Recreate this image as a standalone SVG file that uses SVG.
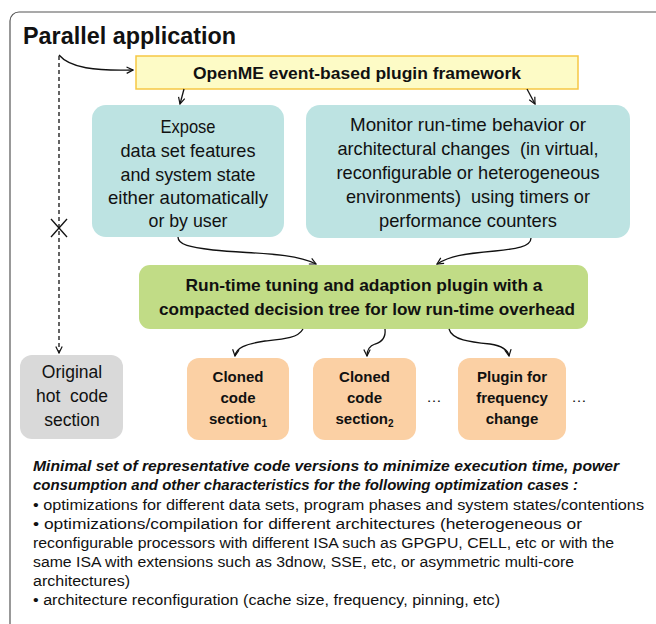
<svg xmlns="http://www.w3.org/2000/svg" width="656" height="624" viewBox="0 0 656 624">
<style>
text{font-family:"Liberation Sans",Arial,sans-serif;fill:#111}
.t{font-size:23px;font-weight:bold}
.y{font-size:16.5px;font-weight:bold}
.m{font-size:18.5px}
.g{font-size:16.5px;font-weight:bold}
.o{font-size:15px;font-weight:bold}
.gr{font-size:17.5px}
.b{font-size:15.5px}
.bi{font-size:15px;font-weight:bold;font-style:italic}
.c{text-anchor:middle}
.conn path,.conn line{fill:none;stroke:#111;stroke-width:1.3}
</style>
<defs>
<marker id="ah" viewBox="0 0 10 10" refX="9" refY="5" markerWidth="8" markerHeight="8" markerUnits="userSpaceOnUse" orient="auto"><path d="M1,1 L9,5 L1,9" fill="none" stroke="#111" stroke-width="1.5"/></marker>
</defs>
<rect x="10" y="12" width="720" height="720" rx="9" fill="#fff" stroke="#555" stroke-width="1.2"/>
<text class="t" x="23" y="44" textLength="213" lengthAdjust="spacingAndGlyphs">Parallel application</text>

<g id="framework">
<rect x="136" y="56" width="442" height="33" fill="#fdfbc6" stroke="#f6c744" stroke-width="1.5"/>
<text class="y c" x="357" y="78.5" textLength="328" lengthAdjust="spacingAndGlyphs">OpenME event-based plugin framework</text>
</g>

<g id="expose">
<rect x="92" y="105" width="192" height="132" rx="14" fill="#bde3e2"/>
<text class="m c" x="188" y="133" textLength="55" lengthAdjust="spacingAndGlyphs">Expose</text>
<text class="m c" x="188" y="157" textLength="135" lengthAdjust="spacingAndGlyphs">data set features</text>
<text class="m c" x="188" y="181" textLength="135" lengthAdjust="spacingAndGlyphs">and system state</text>
<text class="m c" x="188" y="204" textLength="160" lengthAdjust="spacingAndGlyphs">either automatically</text>
<text class="m c" x="188" y="227" textLength="79" lengthAdjust="spacingAndGlyphs">or by user</text>
</g>

<g id="monitor">
<rect x="306" y="105" width="324" height="133" rx="14" fill="#bde3e2"/>
<text class="m c" x="468" y="131" textLength="236" lengthAdjust="spacingAndGlyphs">Monitor run-time behavior or</text>
<text class="m c" x="468" y="155" textLength="261" lengthAdjust="spacingAndGlyphs" xml:space="preserve">architectural changes  (in virtual,</text>
<text class="m c" x="468" y="179" textLength="263" lengthAdjust="spacingAndGlyphs">reconfigurable or heterogeneous</text>
<text class="m c" x="468" y="203" textLength="244" lengthAdjust="spacingAndGlyphs" xml:space="preserve">environments)  using timers or</text>
<text class="m c" x="468" y="227" textLength="178" lengthAdjust="spacingAndGlyphs">performance counters</text>
</g>

<g id="tuning">
<rect x="139" y="265" width="449" height="64" rx="11" fill="#c1dc86"/>
<text class="g c" x="364" y="291" textLength="357" lengthAdjust="spacingAndGlyphs">Run-time tuning and adaption plugin with a</text>
<text class="g c" x="367" y="314.5" textLength="416" lengthAdjust="spacingAndGlyphs">compacted decision tree for low run-time overhead</text>
</g>

<g id="original">
<rect x="20" y="355" width="103" height="84" rx="12" fill="#d9d9d9"/>
<text class="gr c" x="72" y="378">Original</text>
<text class="gr c" x="72" y="402" xml:space="preserve">hot  code</text>
<text class="gr c" x="72" y="426">section</text>
</g>

<g id="clone1">
<rect x="187" y="358" width="102" height="82" rx="12" fill="#fbd0a4"/>
<text class="o c" x="238" y="382">Cloned</text>
<text class="o c" x="238" y="403">code</text>
<text class="o c" x="238" y="424">section<tspan font-size="10" dy="3">1</tspan></text>
</g>

<g id="clone2">
<rect x="313" y="358" width="103" height="82" rx="12" fill="#fbd0a4"/>
<text class="o c" x="364.5" y="382">Cloned</text>
<text class="o c" x="364.5" y="403">code</text>
<text class="o c" x="364.5" y="424">section<tspan font-size="10" dy="3">2</tspan></text>
</g>

<g id="plugin">
<rect x="458" y="358" width="108" height="82" rx="12" fill="#fbd0a4"/>
<text class="o c" x="512" y="382">Plugin for</text>
<text class="o c" x="512" y="403">frequency</text>
<text class="o c" x="512" y="424">change</text>
</g>

<text class="b c" x="434" y="402">…</text>
<text class="b c" x="579" y="402">…</text>

<g class="conn" id="connectors">
<path d="M59,55 C70,68 95,71 133,70" marker-end="url(#ah)"/>
<path d="M184,89 L180,104" marker-end="url(#ah)"/>
<path d="M527,89 L535,104" marker-end="url(#ah)"/>
<path d="M178,237 C178,245 190,247 213,250 C250,254 292,252 316,264" marker-end="url(#ah)"/>
<path d="M531,238 C531,247 515,249 495,251 C462,254 450,256 437,264" marker-end="url(#ah)"/>
<path d="M303,329 C298,338 285,339 265,341 C245,344 236,348 235,356" marker-end="url(#ah)"/>
<path d="M385,329 C386,338 382,342 375,344 C369,346 367,350 367,356" marker-end="url(#ah)"/>
<path d="M449,329 C452,340 470,342 490,344 C503,346 508,350 509,356" marker-end="url(#ah)"/>
<path d="M59,56 L59,353" stroke-dasharray="4 3" marker-end="url(#ah)"/>
<line x1="51" y1="219" x2="67" y2="237"/>
<line x1="51" y1="237" x2="67" y2="219"/>
</g>

<g id="notes">
<text class="bi" x="33" y="471" textLength="586" lengthAdjust="spacingAndGlyphs">Minimal set of representative code versions to minimize execution time, power</text>
<text class="bi" x="33" y="490" textLength="545" lengthAdjust="spacingAndGlyphs">consumption and other characteristics for the following optimization cases :</text>
<text class="b" x="33" y="510" textLength="611" lengthAdjust="spacingAndGlyphs">• optimizations for different data sets, program phases and system states/contentions</text>
<text class="b" x="33" y="529" textLength="549" lengthAdjust="spacingAndGlyphs">• optimizations/compilation for different architectures (heterogeneous or</text>
<text class="b" x="33" y="548" textLength="581" lengthAdjust="spacingAndGlyphs">reconfigurable processors with different ISA such as GPGPU, CELL, etc or with the</text>
<text class="b" x="33" y="567" textLength="541" lengthAdjust="spacingAndGlyphs">same ISA with extensions such as 3dnow, SSE, etc, or asymmetric multi-core</text>
<text class="b" x="33" y="586" textLength="97" lengthAdjust="spacingAndGlyphs">architectures)</text>
<text class="b" x="33" y="605" textLength="467" lengthAdjust="spacingAndGlyphs">• architecture reconfiguration (cache size, frequency, pinning, etc)</text>
</g>
</svg>
